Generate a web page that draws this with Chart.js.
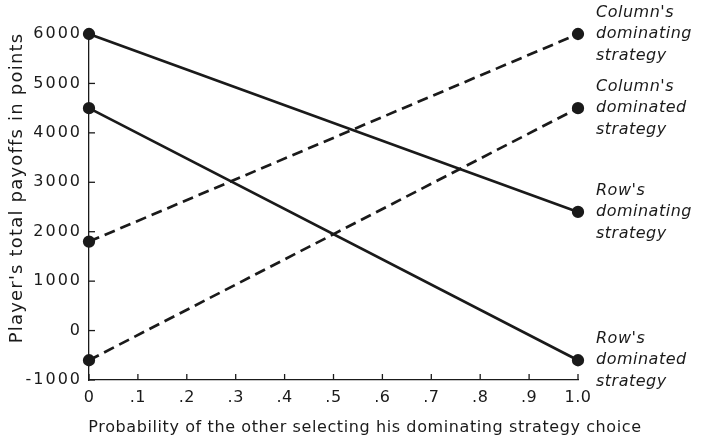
<!DOCTYPE html>
<html>
<head>
<meta charset="utf-8">
<script src="https://cdn.jsdelivr.net/npm/chart.js@4/dist/chart.umd.min.js"></script>
<style>
  html, body { margin: 0; padding: 0; background: #fff; }
  #wrap { width: 705px; height: 443px; }
</style>
</head>
<body>
<div id="wrap"><canvas id="c" width="705" height="443"></canvas></div>
<script>
// ---- data ----
const xValues = [0, 1];
const colDominating = [1800, 6000];
const colDominated = [-600, 4500];
const rowDominating = [6000, 2400];
const rowDominated = [4500, -600];
const xTickValues = [0, 0.1, 0.2, 0.3, 0.4, 0.5, 0.6, 0.7, 0.8, 0.9, 1.0];
const xTickLabels = ['0', '.1', '.2', '.3', '.4', '.5', '.6', '.7', '.8', '.9', '1.0'];
const yTickValues = [-1000, 0, 1000, 2000, 3000, 4000, 5000, 6000];
const yTickLabels = ['-1000', '0', '1000', '2000', '3000', '4000', '5000', '6000'];
const seriesLabels = [
  ["Column's", 'dominating', 'strategy'],
  ["Column's", 'dominated', 'strategy'],
  ["Row's", 'dominating', 'strategy'],
  ["Row's", 'dominated', 'strategy']
];
const xTitle = 'Probability of the other selecting his dominating strategy choice';
const yTitle = "Player's total payoffs in points";

const INK = '#1a1a1a';
const FONT = 'DejaVu Sans';

function pts(ys) { return xValues.map((x, i) => ({ x: x, y: ys[i] })); }
function ds(ys, dashed, lines) {
  return {
    data: pts(ys),
    borderColor: INK,
    backgroundColor: INK,
    borderWidth: 2.7,
    borderDash: dashed ? [11, 6] : [],
    pointRadius: 4.8,
    pointHoverRadius: 4.8,
    pointBackgroundColor: INK,
    pointBorderColor: INK,
    showLine: true,
    clip: false,
    sideLabel: lines
  };
}

function withSpacing(chart, fn, sp) {
  return function () {
    const ctx = chart.ctx;
    const prev = ctx.letterSpacing;
    ctx.letterSpacing = sp;
    const r = fn.apply(this, arguments);
    ctx.letterSpacing = prev || '0px';
    return r;
  };
}

const spacingPlugin = {
  id: 'spacing',
  beforeDraw(chart) {
    const x = chart.scales.x, y = chart.scales.y;
    if (!x._sp) { x.drawLabels = withSpacing(chart, x.drawLabels, '0.5px'); x._sp = true; }
    if (!y._sp) { y.drawLabels = withSpacing(chart, y.drawLabels, '2px'); y._sp = true; }
  }
};

const sidePlugin = {
  id: 'side',
  afterDraw(chart) {
    const ctx = chart.ctx;
    const xs = chart.scales.x, ys = chart.scales.y;
    const area = chart.chartArea;
    ctx.save();
    ctx.strokeStyle = INK;
    ctx.lineWidth = 1.3;
    // inner tick marks
    xTickValues.forEach(v => {
      const px = xs.getPixelForValue(v);
      ctx.beginPath(); ctx.moveTo(px, area.bottom); ctx.lineTo(px, area.bottom - 6); ctx.stroke();
    });
    yTickValues.forEach(v => {
      const py = ys.getPixelForValue(v);
      ctx.beginPath(); ctx.moveTo(area.left, py); ctx.lineTo(area.left + 6, py); ctx.stroke();
    });
    ctx.fillStyle = INK;
    ctx.textBaseline = 'middle';
    // axis titles
    ctx.textAlign = 'center';
    ctx.font = '16px "' + FONT + '"';
    ctx.letterSpacing = '0.6px';
    ctx.fillText(xTitle, 365, 428);
    ctx.save();
    ctx.translate(17, 188);
    ctx.rotate(-Math.PI / 2);
    ctx.font = '18px "' + FONT + '"';
    ctx.letterSpacing = '1.2px';
    ctx.fillText(yTitle, 0, 0);
    ctx.restore();
    // right-side labels
    ctx.font = 'italic 16px "' + FONT + '"';
    ctx.letterSpacing = '0.5px';
    ctx.textAlign = 'left';
    chart.data.datasets.forEach(d => {
      const last = d.data[d.data.length - 1];
      const py = ys.getPixelForValue(last.y);
      const lx = area.right + 18;
      d.sideLabel.forEach((t, i) => ctx.fillText(t, lx, py + (i - 1) * 21.5));
    });
    ctx.restore();
  }
};

new Chart(document.getElementById('c'), {
  type: 'scatter',
  data: {
    datasets: [
      ds(colDominating, true, seriesLabels[0]),
      ds(colDominated, true, seriesLabels[1]),
      ds(rowDominating, false, seriesLabels[2]),
      ds(rowDominated, false, seriesLabels[3])
    ]
  },
  options: {
    responsive: false,
    animation: false,
    layout: { padding: { left: 0, right: 127, top: 34, bottom: 0 } },
    plugins: { legend: { display: false }, tooltip: { enabled: false } },
    scales: {
      x: {
        type: 'linear', min: 0, max: 1,
        afterBuildTicks(s) { s.ticks = xTickValues.map(v => ({ value: v })); },
        afterFit(s) { s.height = 63; },
        grid: { display: false, drawTicks: false, tickLength: 0 },
        border: { display: true, color: INK, width: 1.3 },
        ticks: {
          color: INK, padding: 8, maxRotation: 0, autoSkip: false,
          font: { family: FONT, size: 16 },
          callback(v) { const i = xTickValues.findIndex(t => Math.abs(t - v) < 1e-9); return i >= 0 ? xTickLabels[i] : ''; }
        },
        title: { display: false }
      },
      y: {
        type: 'linear', min: -1000, max: 6000,
        afterBuildTicks(s) { s.ticks = yTickValues.map(v => ({ value: v })); },
        afterFit(s) { s.width = 89; },
        grid: { display: false, drawTicks: false, tickLength: 0 },
        border: { display: true, color: INK, width: 1.3 },
        ticks: {
          color: INK, padding: 7, autoSkip: false,
          font: { family: FONT, size: 16 },
          callback(v) { const i = yTickValues.indexOf(v); return i >= 0 ? yTickLabels[i] : ''; }
        },
        title: { display: false }
      }
    }
  },
  plugins: [spacingPlugin, sidePlugin]
});
</script>
</body>
</html>
